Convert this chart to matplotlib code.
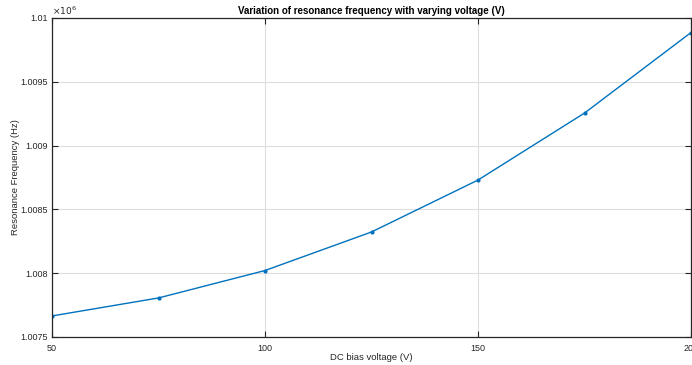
import matplotlib
matplotlib.use("Agg")
import matplotlib.pyplot as plt
from matplotlib.ticker import FuncFormatter

voltage = [50, 75, 100, 125, 150, 175, 200]
freq_hz = [1007665, 1007806, 1008021, 1008323, 1008730, 1009255, 1009886]
xticks = [50, 100, 150, 200]
yticks = [1.0075e6, 1.008e6, 1.0085e6, 1.009e6, 1.0095e6, 1.01e6]

plt.rcParams['font.family'] = ['Liberation Sans', 'DejaVu Sans']

fig = plt.figure(figsize=(6.92, 3.65), dpi=100)
ax = fig.add_axes([52/692, 1-337/365, 639/692, 319/365])

ax.plot(voltage, freq_hz, color='#0072BD', lw=1.0, marker='.', ms=4)
ax.set_xlim(50, 200)
ax.set_ylim(1.0075e6, 1.01e6)
ax.set_xticks(xticks)
ax.set_yticks(yticks)
ax.yaxis.set_major_formatter(FuncFormatter(lambda v, p: f"{v/1e6:.4f}".rstrip('0')))
ax.grid(True, color='#dddddd', lw=0.8)
ax.set_axisbelow(True)
ax.tick_params(direction='in', length=4, width=0.8, labelsize=6.5, colors='#262626',
               top=True, right=True)
ax.tick_params(axis='y', pad=3)
ax.tick_params(axis='x', pad=5)
for s in ax.spines.values():
    s.set_color('#262626')
    s.set_linewidth(0.9)

ax.set_xlabel('DC bias voltage (V)', fontsize=6.8, color='#262626')
ax.set_ylabel('Resonance Frequency (Hz)', fontsize=6.8, color='#262626')
ax.xaxis.set_label_coords(0.5, -0.063)
ax.yaxis.set_label_coords(-0.057, 0.5)
ax.xaxis.label.set_va('center')
ax.yaxis.label.set_va('center')
ax.set_title('Variation of resonance frequency with varying voltage (V)', fontsize=7,
             fontweight='bold', pad=3)
ax.text(0, 1.004, r'$\times10^{6}$', transform=ax.transAxes, fontsize=6.5,
        color='#262626', ha='left', va='bottom')

fig.savefig('out.png', dpi=100)
